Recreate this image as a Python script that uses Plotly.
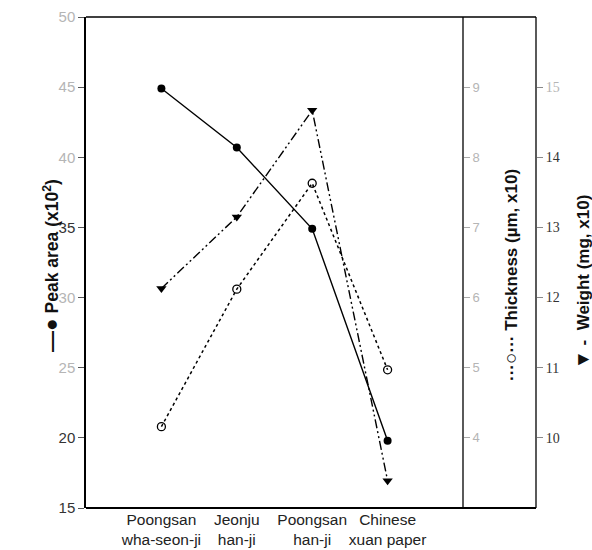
import plotly.graph_objects as go

categories = ["Poongsan<br>wha-seon-ji", "Jeonju<br>han-ji", "Poongsan<br>han-ji", "Chinese<br>xuan paper"]
peak_area = [44.9, 40.7, 34.9, 19.8]          # x10^2
thickness = [4.16, 6.12, 7.63, 4.97]          # um, x10
weight = [12.13, 13.15, 14.67, 9.39]          # mg, x10

peak_ticks = [15, 20, 25, 30, 35, 40, 45, 50]
peak_faded = [25, 30, 40, 45, 50]
thick_ticks = [4, 5, 6, 7, 8, 9]
weight_ticks = [10, 11, 12, 13, 14, 15]
weight_faded = [15]

FONT = "Liberation Sans, Arial, sans-serif"
DARK = "#333333"
FADE = "#b5b5b5"


def ticktexts(vals, faded):
    return [f'<span style="color:{FADE if v in faded else DARK}">{v}</span>' for v in vals]


fig = go.Figure()
fig.add_trace(go.Scatter(
    x=categories, y=peak_area, mode="lines+markers", yaxis="y",
    line=dict(color="black", width=1.4),
    marker=dict(symbol="circle", size=8, color="black"),
    name="Peak area"))
fig.add_trace(go.Scatter(
    x=categories, y=thickness, mode="lines+markers", yaxis="y2",
    line=dict(color="black", width=1.5, dash="dot"),
    marker=dict(symbol="circle-open", size=8, color="black", line=dict(width=1.3)),
    name="Thickness"))
fig.add_trace(go.Scatter(
    x=categories, y=weight, mode="lines+markers", yaxis="y3",
    line=dict(color="black", width=1.4, dash="9px,3px,2px,3px,2px,3px"),
    marker=dict(symbol="triangle-down", size=9, color="black"),
    name="Weight"))

xdom_end = 377 / 450

fig.update_layout(
    width=592, height=550,
    margin=dict(l=86, r=56, t=17, b=42, autoexpand=False),
    paper_bgcolor="white", plot_bgcolor="white",
    showlegend=False,
    font=dict(family=FONT, size=12, color=DARK),
    xaxis=dict(domain=[0, xdom_end], type="category", range=[-1, 4],
               showgrid=False, zeroline=False, showline=False, ticks="",
               automargin=False, tickangle=0,
               tickfont=dict(size=15.5, color="#222")),
    yaxis=dict(range=[15, 50], tickvals=peak_ticks,
               ticktext=ticktexts(peak_ticks, peak_faded),
               showgrid=False, zeroline=False, showline=True, linecolor="black",
               linewidth=1.5, ticks="outside", ticklen=6, tickcolor="#555",
               automargin=False, tickfont=dict(size=15)),
    yaxis2=dict(range=[3, 10], overlaying="y", anchor="free", position=xdom_end,
                side="right", tickvals=thick_ticks,
                ticktext=ticktexts(thick_ticks, thick_ticks),
                showgrid=False, zeroline=False, showline=False,
                ticks="outside", ticklen=6, tickcolor="#aaa",
                automargin=False, tickfont=dict(size=13)),
    yaxis3=dict(range=[9, 16], overlaying="y", anchor="free", position=1.0,
                side="right", tickvals=weight_ticks,
                ticktext=ticktexts(weight_ticks, weight_faded),
                showgrid=False, zeroline=False, showline=False,
                ticks="outside", ticklen=6, tickcolor="#888",
                automargin=False, tickfont=dict(size=14, family="Liberation Serif, serif")),
)

# frame lines
frame = dict(color="black", width=1.3)
fig.add_shape(type="line", xref="paper", yref="paper", x0=0, x1=1, y0=1, y1=1, line=frame)
fig.add_shape(type="line", xref="paper", yref="paper", x0=0, x1=1, y0=0, y1=0,
              line=dict(color="black", width=2))
fig.add_shape(type="line", xref="paper", yref="paper", x0=xdom_end, x1=xdom_end, y0=0, y1=1, line=frame)
fig.add_shape(type="line", xref="paper", yref="paper", x0=1, x1=1, y0=0, y1=1, line=frame)

# axis titles as annotations
fig.add_annotation(text='<b><span style="font-size:21px">—●</span> Peak area (x10<sup>2</sup>)</b>',
                   textangle=-90,
                   xref="paper", yref="paper", x=-36 / 450, y=(508 - 266) / 491,
                   xanchor="center", yanchor="middle", showarrow=False,
                   font=dict(size=17.5, color="#111"))
fig.add_annotation(text='<b>···<span style="font-size:19px">○</span>··· Thickness (µm, x10)</b>',
                   textangle=-90,
                   xref="paper", yref="paper", x=(510 - 86) / 450, y=(508 - 275) / 491,
                   xanchor="center", yanchor="middle", showarrow=False,
                   font=dict(size=17, color="#111"))
fig.add_annotation(text='<b><span style="font-size:19px">▼</span> -  Weight (mg, x10)</b>',
                   textangle=-90,
                   xref="paper", yref="paper", x=(582 - 86) / 450, y=(508 - 282) / 491,
                   xanchor="center", yanchor="middle", showarrow=False,
                   font=dict(size=17, color="#111"))

fig.write_html("out.html", config={"displayModeBar": False},
               post_script="document.body.style.margin='0px';document.body.style.padding='0px';")
